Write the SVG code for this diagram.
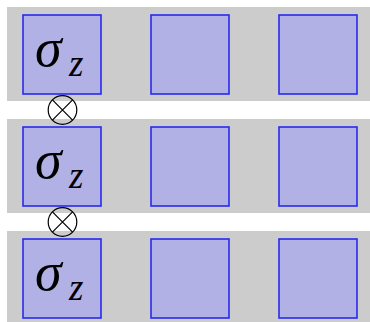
<svg xmlns="http://www.w3.org/2000/svg" width="370" height="322" viewBox="0 0 370 322">
  <style>
    .band { fill: #cccccc; }
    .cell { fill: #b1b1e6; stroke: #2a2aee; stroke-width: 1.6; }
    .sym { font-family: "Liberation Serif", "DejaVu Serif", serif; font-style: italic; fill: #000; }
    .big { font-size: 54px; }
    .sub { font-size: 37px; }
    .op { fill: none; stroke: #000; stroke-width: 1.2; }
  </style>
  <rect width="370" height="322" fill="#fff"/>

  <!-- row 1 -->
  <g id="row1">
    <rect class="band" x="7" y="7" width="363" height="94"/>
    <g id="r1c1"><rect class="cell" x="23" y="15" width="78" height="79"/>
      <text class="sym big" x="35" y="66">σ</text>
      <text class="sym sub" x="69" y="76">z</text></g>
    <g id="r1c2"><rect class="cell" x="151" y="15" width="78" height="79"/></g>
    <g id="r1c3"><rect class="cell" x="279" y="15" width="78" height="79"/></g>
  </g>

  <!-- row 2 -->
  <g id="row2">
    <rect class="band" x="7" y="119" width="363" height="94"/>
    <g id="r2c1"><rect class="cell" x="23" y="127" width="78" height="79"/>
      <text class="sym big" x="35" y="178">σ</text>
      <text class="sym sub" x="69" y="188">z</text></g>
    <g id="r2c2"><rect class="cell" x="151" y="127" width="78" height="79"/></g>
    <g id="r2c3"><rect class="cell" x="279" y="127" width="78" height="79"/></g>
  </g>

  <!-- row 3 -->
  <g id="row3">
    <rect class="band" x="7" y="231" width="363" height="91"/>
    <g id="r3c1"><rect class="cell" x="23" y="239" width="78" height="79"/>
      <text class="sym big" x="35" y="290">σ</text>
      <text class="sym sub" x="69" y="300">z</text></g>
    <g id="r3c2"><rect class="cell" x="151" y="239" width="78" height="79"/></g>
    <g id="r3c3"><rect class="cell" x="279" y="239" width="78" height="79"/></g>
  </g>

  <!-- tensor-product symbols between rows -->
  <g id="connectors">
    <g id="otimes1">
      <circle class="op" cx="62.5" cy="110" r="14.3"/>
      <path class="op" d="M52.4 99.9 L72.6 120.1 M72.6 99.9 L52.4 120.1"/>
    </g>
    <g id="otimes2">
      <circle class="op" cx="62.5" cy="222" r="14.3"/>
      <path class="op" d="M52.4 211.9 L72.6 232.1 M72.6 211.9 L52.4 232.1"/>
    </g>
  </g>
</svg>
